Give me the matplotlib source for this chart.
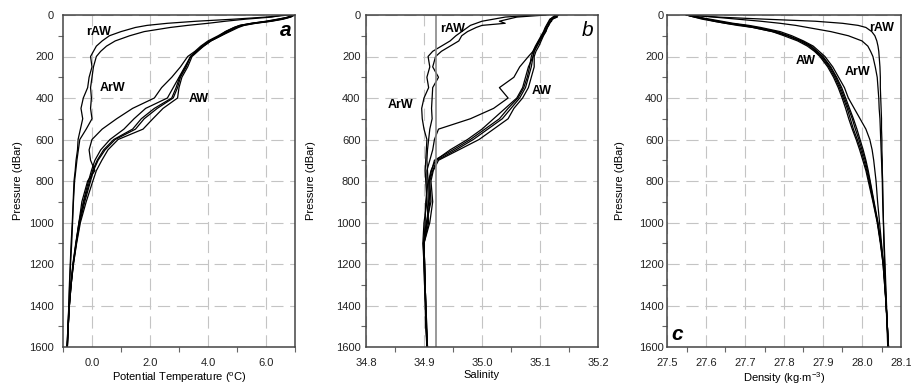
import matplotlib
matplotlib.use('Agg')
import matplotlib.pyplot as plt
from matplotlib.ticker import MultipleLocator, FormatStrFormatter

plt.rcParams['font.family'] = ['Liberation Sans', 'DejaVu Sans']
plt.rcParams['mathtext.fontset'] = 'custom'
plt.rcParams['mathtext.rm'] = 'Liberation Sans'

# pressure levels shared by all casts (dBar)
pressure = [0, 10, 20, 30, 40, 50, 60, 80, 100, 125, 150, 175, 200, 250, 300, 350,
            400, 450, 500, 550, 600, 650, 700, 750, 800, 900, 1000, 1100, 1200,
            1300, 1400, 1500, 1600]

# potential temperature (deg C): two rAW/ArW casts, five AW casts
theta_raw = [
    [6.80, 6.00, 4.90, 3.60, 2.60, 1.90, 1.50, 1.00, 0.60, 0.35, 0.15, 0.05, -0.05, 0.00, -0.10, -0.15,
     -0.30, -0.38, -0.32, -0.40, -0.48, -0.50, -0.55, -0.58, -0.62, -0.65, -0.68, -0.72, -0.75,
     -0.78, -0.80, -0.83, -0.86],
    [6.60, 6.20, 5.30, 4.60, 4.00, 3.30, 2.70, 1.80, 1.30, 0.80, 0.50, 0.30, 0.15, 0.05, 0.00, -0.05,
     -0.02, -0.05, 0.00, -0.20, -0.42, -0.47, -0.52, -0.56, -0.60, -0.64, -0.67, -0.70, -0.74,
     -0.77, -0.80, -0.82, -0.85],
]
theta_aw = [
    [6.90, 6.80, 6.40, 6.00, 5.50, 5.10, 4.90, 4.60, 4.35, 4.00, 3.75, 3.55, 3.30, 3.05, 2.75, 2.40,
     2.15, 1.40, 0.85, 0.35, 0.00, -0.10, -0.05, 0.10, -0.15, -0.35, -0.45, -0.55, -0.65,
     -0.72, -0.78, -0.82, -0.85],
    [6.95, 6.85, 6.50, 6.10, 5.55, 5.15, 4.95, 4.65, 4.40, 4.05, 3.80, 3.60, 3.40, 3.20, 3.00, 2.80,
     2.60, 1.85, 1.45, 1.10, 0.62, 0.30, 0.10, -0.02, -0.12, -0.30, -0.45, -0.56, -0.66,
     -0.73, -0.78, -0.82, -0.86],
    [6.90, 6.80, 6.55, 6.15, 5.60, 5.20, 5.00, 4.70, 4.45, 4.10, 3.85, 3.60, 3.40, 3.25, 3.05, 2.95,
     2.80, 2.25, 1.80, 1.50, 0.80, 0.45, 0.21, 0.05, -0.05, -0.25, -0.42, -0.54, -0.64,
     -0.72, -0.78, -0.82, -0.85],
    [7.00, 6.85, 6.60, 6.20, 5.65, 5.25, 5.05, 4.75, 4.45, 4.10, 3.85, 3.65, 3.45, 3.30, 3.10, 3.00,
     2.95, 2.45, 2.10, 1.76, 0.90, 0.55, 0.34, 0.15, 0.03, -0.20, -0.40, -0.53, -0.64,
     -0.72, -0.78, -0.82, -0.85],
    [6.85, 6.75, 6.45, 6.05, 5.50, 5.10, 4.90, 4.60, 4.40, 4.05, 3.80, 3.60, 3.40, 3.22, 3.02, 2.90,
     2.75, 2.15, 1.70, 1.40, 0.75, 0.40, 0.18, 0.02, -0.08, -0.28, -0.44, -0.55, -0.65,
     -0.73, -0.79, -0.83, -0.86],
]

# salinity
sal_raw = [
    [35.090, 35.040, 35.020, 35.000, 34.990, 34.980, 34.975, 34.965, 34.955, 34.945, 34.930, 34.915,
     34.907, 34.910, 34.905, 34.908, 34.900, 34.896, 34.897, 34.900, 34.905, 34.904, 34.903,
     34.902, 34.903, 34.905, 34.900, 34.898, 34.900, 34.901, 34.902, 34.903, 34.905],
    [35.110, 35.060, 35.045, 35.030, 35.040, 35.000, 34.990, 34.975, 34.965, 34.960, 34.945, 34.930,
     34.920, 34.915, 34.925, 34.915, 34.914, 34.913, 34.914, 34.910, 34.908, 34.906, 34.905,
     34.906, 34.907, 34.903, 34.902, 34.900, 34.901, 34.902, 34.903, 34.904, 34.906],
]
sal_aw = [
    [35.125, 35.130, 35.120, 35.120, 35.115, 35.115, 35.112, 35.108, 35.104, 35.098, 35.093, 35.088,
     35.080, 35.065, 35.055, 35.030, 35.045, 35.020, 34.980, 34.925, 34.918, 34.915, 34.910,
     34.905, 34.905, 34.905, 34.908, 34.900, 34.901, 34.902, 34.903, 34.904, 34.905],
    [35.130, 35.125, 35.120, 35.118, 35.116, 35.114, 35.112, 35.110, 35.105, 35.100, 35.095, 35.090,
     35.088, 35.080, 35.075, 35.070, 35.060, 35.040, 35.020, 35.000, 34.975, 34.945, 34.920,
     34.912, 34.908, 34.910, 34.906, 34.900, 34.901, 34.902, 34.903, 34.904, 34.905],
    [35.128, 35.122, 35.118, 35.116, 35.114, 35.112, 35.110, 35.107, 35.103, 35.098, 35.094, 35.090,
     35.088, 35.085, 35.080, 35.075, 35.065, 35.050, 35.035, 35.010, 34.985, 34.955, 34.922,
     34.915, 34.910, 34.912, 34.904, 34.899, 34.900, 34.902, 34.903, 34.904, 34.906],
    [35.132, 35.128, 35.122, 35.119, 35.117, 35.115, 35.113, 35.110, 35.106, 35.102, 35.098, 35.093,
     35.090, 35.090, 35.085, 35.080, 35.070, 35.055, 35.045, 35.020, 34.995, 34.960, 34.925,
     34.916, 34.912, 34.915, 34.910, 34.900, 34.901, 34.902, 34.903, 34.905, 34.906],
    [35.126, 35.124, 35.117, 35.115, 35.113, 35.111, 35.109, 35.106, 35.102, 35.097, 35.092, 35.088,
     35.085, 35.082, 35.078, 35.072, 35.062, 35.045, 35.030, 35.005, 34.980, 34.950, 34.918,
     34.913, 34.909, 34.908, 34.905, 34.899, 34.900, 34.901, 34.903, 34.904, 34.905],
]
sal_ref = 34.92

# potential density (kg m-3)
dens_raw = [
    [27.55, 27.63, 27.75, 27.88, 27.95, 27.99, 28.010, 28.025, 28.033, 28.038, 28.041, 28.043,
     28.044, 28.046, 28.047, 28.047, 28.048, 28.049, 28.050, 28.050, 28.051, 28.051, 28.052,
     28.052, 28.053, 28.054, 28.055, 28.056, 28.058, 28.060, 28.062, 28.064, 28.066],
    [27.56, 27.62, 27.68, 27.74, 27.79, 27.83, 27.86, 27.92, 27.965, 28.000, 28.015, 28.022,
     28.028, 28.034, 28.039, 28.041, 28.043, 28.044, 28.046, 28.047, 28.048, 28.049, 28.050,
     28.051, 28.052, 28.053, 28.055, 28.057, 28.059, 28.061, 28.063, 28.065, 28.068],
]
dens_aw = [
    [27.55, 27.58, 27.61, 27.64, 27.67, 27.71, 27.74, 27.79, 27.82, 27.85, 27.875, 27.890,
     27.905, 27.925, 27.940, 27.955, 27.965, 27.980, 27.995, 28.010, 28.020, 28.026, 28.030,
     28.033, 28.036, 28.040, 28.045, 28.050, 28.055, 28.059, 28.062, 28.065, 28.067],
    [27.55, 27.58, 27.60, 27.63, 27.66, 27.70, 27.73, 27.78, 27.81, 27.845, 27.870, 27.885,
     27.900, 27.920, 27.935, 27.948, 27.958, 27.968, 27.978, 27.987, 27.995, 28.003, 28.010,
     28.016, 28.021, 28.031, 28.041, 28.049, 28.055, 28.059, 28.062, 28.065, 28.067],
    [27.55, 27.57, 27.60, 27.62, 27.65, 27.69, 27.72, 27.77, 27.81, 27.84, 27.865, 27.880,
     27.895, 27.915, 27.930, 27.942, 27.952, 27.962, 27.970, 27.978, 27.988, 27.997, 28.005,
     28.012, 28.018, 28.029, 28.040, 28.048, 28.054, 28.058, 28.062, 28.065, 28.068],
    [27.55, 27.57, 27.59, 27.62, 27.65, 27.68, 27.72, 27.77, 27.80, 27.835, 27.860, 27.878,
     27.892, 27.912, 27.927, 27.939, 27.949, 27.958, 27.966, 27.975, 27.985, 27.994, 28.002,
     28.010, 28.016, 28.028, 28.039, 28.047, 28.054, 28.058, 28.062, 28.065, 28.068],
    [27.55, 27.58, 27.60, 27.63, 27.66, 27.70, 27.73, 27.78, 27.81, 27.845, 27.868, 27.883,
     27.898, 27.918, 27.933, 27.945, 27.955, 27.965, 27.975, 27.983, 27.992, 28.000, 28.008,
     28.014, 28.020, 28.030, 28.040, 28.048, 28.055, 28.059, 28.062, 28.065, 28.067],
]

fig = plt.figure(figsize=(9.12, 3.85), dpi=100)

W, H = 912.0, 385.0
top, bottom = 15, 347
panels = [
    # left px, right px, xlim, major, minor, xlabel, ylabel x, ytick pad
    (63, 295, (-1, 7), 2.0, 1.0, r'Potential Temperature ($^{\mathregular{o}}$C)', -0.172, 6.5),
    (366, 598, (34.8, 35.2), 0.1, 0.05, 'Salinity', -0.214, 4.0),
    (667, 901, (27.5, 28.1), 0.1, 0.05, r'Density (kg$\cdot$m$^{\mathregular{-3}}$)', -0.181, 2.5),
]

axes = []
for left, right, xlim, major, minor, xlabel, ylab_x, ypad in panels:
    ax = fig.add_axes([left / W, 1 - bottom / H, (right - left) / W, (bottom - top) / H])
    ax.set_xlim(*xlim)
    ax.set_ylim(1600, 0)
    ax.xaxis.set_major_locator(MultipleLocator(major))
    ax.xaxis.set_minor_locator(MultipleLocator(minor))
    ax.xaxis.set_major_formatter(FormatStrFormatter('%.1f'))
    ax.yaxis.set_major_locator(MultipleLocator(200))
    ax.yaxis.set_minor_locator(MultipleLocator(100))
    ax.tick_params(which='major', length=0, labelsize=8, colors='#222222')
    ax.tick_params(axis='x', which='major', pad=8)
    ax.tick_params(axis='y', which='major', pad=ypad)
    ax.tick_params(which='minor', length=3.5, width=0.8, direction='out', color='#666666')
    ax.grid(True, which='major', color='#c4c4c4', linestyle=(0, (11, 6)), linewidth=0.8)
    for s in ax.spines.values():
        s.set_color('#444444')
        s.set_linewidth(1.1)
    ax.set_xlabel(xlabel, fontsize=8, labelpad=1.5)
    ax.set_ylabel('Pressure (dBar)', fontsize=8)
    ax.yaxis.set_label_coords(ylab_x, 0.5)
    axes.append(ax)

ax_t, ax_s, ax_d = axes

for prof in theta_raw + theta_aw:
    ax_t.plot(prof, pressure, color='black', linewidth=0.9)
for prof in sal_raw + sal_aw:
    ax_s.plot(prof, pressure, color='black', linewidth=0.9)
ax_s.axvline(sal_ref, color='#888888', linewidth=1.2)
for prof in dens_raw + dens_aw:
    ax_d.plot(prof, pressure, color='black', linewidth=0.9)

# water mass labels
lab = dict(fontsize=9, fontweight='bold', ha='center', va='center')
ax_t.text(0.24, 84, 'rAW', **lab)
ax_t.text(0.71, 352, 'ArW', **lab)
ax_t.text(3.67, 405, 'AW', **lab)
ax_s.text(34.949, 67, 'rAW', **lab)
ax_s.text(34.859, 434, 'ArW', **lab)
ax_s.text(35.103, 366, 'AW', **lab)
ax_d.text(28.05, 63, 'rAW', **lab)
ax_d.text(27.855, 222, 'AW', **lab)
ax_d.text(27.989, 275, 'ArW', **lab)

# panel letters
ax_t.text(0.985, 0.937, 'a', transform=ax_t.transAxes, fontsize=15, fontweight='bold',
          style='italic', ha='right', va='baseline')
ax_s.text(0.978, 0.937, 'b', transform=ax_s.transAxes, fontsize=15,
          style='italic', ha='right', va='baseline')
ax_d.text(0.02, 0.021, 'c', transform=ax_d.transAxes, fontsize=15, fontweight='bold',
          style='italic', ha='left', va='baseline')

fig.savefig('out.png', dpi=100)
